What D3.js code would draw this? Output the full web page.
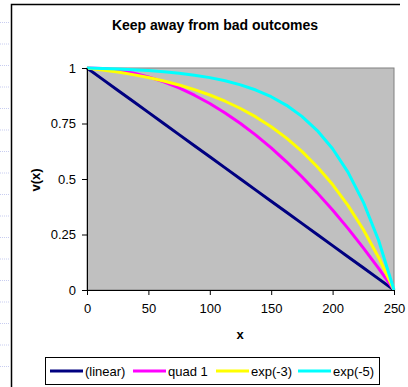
<!DOCTYPE html>
<html>
<head>
<meta charset="utf-8">
<script src="https://cdn.jsdelivr.net/npm/d3@7"></script>
<style>
  body { margin: 0; background: #fff; }
  svg { display: block; font-family: "Liberation Sans", Arial, sans-serif; }
</style>
</head>
<body>
<svg id="chart" width="408" height="387"></svg>
<script>
// x positions of the plotted points
const xs = [0, 12.5, 25, 37.5, 50, 62.5, 75, 87.5, 100, 112.5, 125, 137.5, 150, 162.5, 175, 187.5, 200, 212.5, 225, 237.5, 250];

// v(x)
const linearVals = [1, 0.95, 0.9, 0.85, 0.8, 0.75, 0.7, 0.65, 0.6, 0.55, 0.5, 0.45, 0.4, 0.35, 0.3, 0.25, 0.2, 0.15, 0.1, 0.05, 0];
const quadVals = [1, 0.9975, 0.99, 0.9775, 0.96, 0.9375, 0.91, 0.8775, 0.84, 0.7975, 0.75, 0.6975, 0.64, 0.5775, 0.51, 0.4375, 0.36, 0.2775, 0.19, 0.0975, 0];
const exp3Vals = [1, 0.9915, 0.9817, 0.9702, 0.9569, 0.9415, 0.9235, 0.9027, 0.8784, 0.8503, 0.8176, 0.7796, 0.7354, 0.6841, 0.6245, 0.5553, 0.4748, 0.3814, 0.2728, 0.1466, 0];
const exp5Vals = [1, 0.9981, 0.9956, 0.9924, 0.9883, 0.9831, 0.9764, 0.9677, 0.9567, 0.9424, 0.9241, 0.9007, 0.8705, 0.8318, 0.7821, 0.7183, 0.6364, 0.5312, 0.3961, 0.2227, 0];

const seriesNames = ['(linear)', 'quad 1', 'exp(-3)', 'exp(-5)'];
const seriesColors = ['#000080', '#ff00ff', '#ffff00', '#00ffff'];
const xTicks = [0, 50, 100, 150, 200, 250];
const yTicks = [0, 0.25, 0.5, 0.75, 1];

const series = [linearVals, quadVals, exp3Vals, exp5Vals].map((vals, i) => ({
  name: seriesNames[i],
  color: seriesColors[i],
  values: vals.map((v, j) => ({ x: xs[j], v: v }))
}));

const svg = d3.select('#chart');

// faint page guides to the left of the chart frame
d3.range(17).forEach(i => {
  svg.append('line')
    .attr('x1', 0).attr('x2', 10)
    .attr('y1', 22.5 + i * 21.5).attr('y2', 22.5 + i * 21.5)
    .attr('stroke', '#c8cdf0')
    .attr('stroke-dasharray', '1,1');
});

// chart frame (only top and left edges show)
svg.append('path')
  .attr('d', 'M11.5,400V4.5H400')
  .attr('fill', 'none')
  .attr('stroke', '#000')
  .attr('stroke-width', 1.5);

const plot = { left: 87, right: 394, top: 68, bottom: 290 };

const x = d3.scaleLinear().domain([0, 250]).range([plot.left, plot.right]);
const y = d3.scaleLinear().domain([0, 1]).range([plot.bottom, plot.top]);

svg.append('rect')
  .attr('x', plot.left).attr('y', plot.top)
  .attr('width', plot.right - plot.left).attr('height', plot.bottom - plot.top)
  .attr('fill', '#c0c0c0')
  .attr('stroke', '#808080');

const line = d3.line()
  .x(d => x(d.x))
  .y(d => y(d.v));

svg.append('g')
  .selectAll('path')
  .data(series)
  .join('path')
  .attr('d', d => line(d.values))
  .attr('fill', 'none')
  .attr('stroke', d => d.color)
  .attr('stroke-width', 3)
  .attr('stroke-linejoin', 'round');

const xAxis = svg.append('g')
  .attr('transform', `translate(0,${plot.bottom})`)
  .call(d3.axisBottom(x).tickValues(xTicks).tickSize(5).tickSizeOuter(0).tickPadding(9));

const yAxis = svg.append('g')
  .attr('transform', `translate(${plot.left},0)`)
  .call(d3.axisLeft(y).tickValues(yTicks).tickSize(5).tickSizeOuter(0).tickPadding(6)
    .tickFormat(d3.format('')));

[xAxis, yAxis].forEach(g => {
  g.selectAll('text').attr('font-size', 13).attr('fill', '#000')
    .attr('font-family', '"Liberation Sans", Arial, sans-serif');
  g.selectAll('line, path').attr('stroke', '#000');
});

svg.append('text')
  .attr('x', 215).attr('y', 30)
  .attr('text-anchor', 'middle')
  .attr('font-size', 14).attr('font-weight', 'bold')
  .text('Keep away from bad outcomes');

svg.append('text')
  .attr('x', 240).attr('y', 339)
  .attr('text-anchor', 'middle')
  .attr('font-size', 13).attr('font-weight', 'bold')
  .text('x');

svg.append('text')
  .attr('transform', 'translate(40,180) rotate(-90)')
  .attr('text-anchor', 'middle')
  .attr('font-size', 13).attr('font-weight', 'bold')
  .text('v(x)');

// legend
const legend = svg.append('g');
legend.append('rect')
  .attr('x', 45.5).attr('y', 357.5)
  .attr('width', 334).attr('height', 27)
  .attr('fill', '#fff').attr('stroke', '#000');

const legendX = [50, 133, 216, 298];
const items = legend.selectAll('g.item')
  .data(series)
  .join('g')
  .attr('class', 'item')
  .attr('transform', (d, i) => `translate(${legendX[i]},371)`);

items.append('line')
  .attr('x1', 0).attr('x2', 33)
  .attr('stroke', d => d.color)
  .attr('stroke-width', 3);

items.append('text')
  .attr('x', 35).attr('y', 5)
  .attr('font-size', 13)
  .text(d => d.name);
</script>
</body>
</html>
